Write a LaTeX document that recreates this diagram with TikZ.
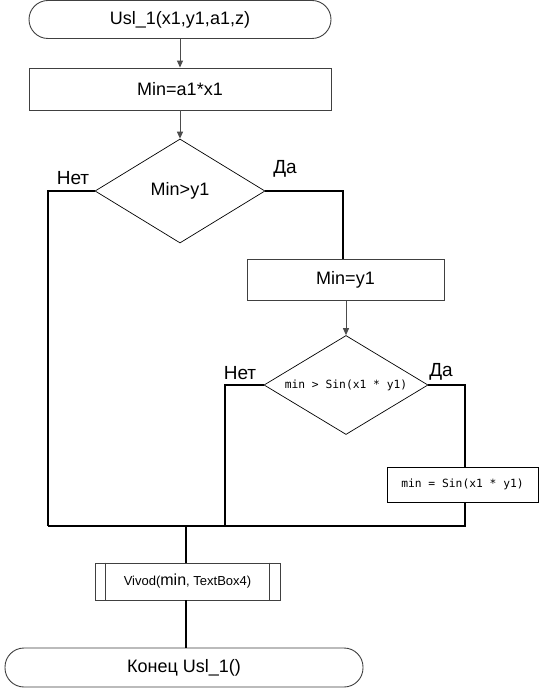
\documentclass[tikz,border=0pt]{standalone}
\usepackage{fontspec}
\setmainfont{Liberation Sans}
\newfontfamily\monofont{DejaVu Sans Mono}
\usetikzlibrary{shapes.geometric,arrows.meta}
\tikzset{
  term/.style={draw=black!75, line width=0.9pt, rectangle, rounded corners=19pt, inner sep=0pt, font=\fontsize{18}{20}\selectfont},
  procbox/.style={draw=black!75, line width=0.9pt, rectangle, inner sep=0pt, font=\fontsize{18}{20}\selectfont},
  decide/.style={draw=black, line width=0.7pt, diamond, inner sep=0pt, shape aspect=1.65, font=\fontsize{18}{20}\selectfont},
  arr/.style={draw=black!70, line width=1pt, -{Triangle[length=7pt,width=6pt]}},
  conn/.style={draw=black, line width=1.8pt},
  lbl/.style={font=\fontsize{19}{21}\selectfont, inner sep=0pt}
}
\begin{document}
\begin{tikzpicture}[x=1pt,y=-1pt]
\useasboundingbox (0,0) rectangle (539,700);
\fill[white] (0,0) rectangle (539,700);
\node[term, minimum width=302pt, minimum height=38pt] (start) at (180,19.5) {Usl\_1(x1,y1,a1,z)};
\node[procbox, minimum width=302pt, minimum height=42pt] (b1) at (180,89) {Min=a1*x1};
\node[decide, minimum width=170pt, minimum height=104pt] (d1) at (180,191) {Min>y1};
\node[procbox, minimum width=197pt, minimum height=41pt] (b2) at (345.5,280) {Min=y1};
\node[decide, minimum width=164pt, minimum height=99pt] (d2) at (346,385) {\monofont\fontsize{11.3}{13}\selectfont min > Sin(x1 * y1)};
\node[procbox, draw=black, minimum width=151pt, minimum height=35pt] (b3) at (462.5,484.5) {\monofont\fontsize{11.3}{13}\selectfont min = Sin(x1 * y1)};
\node[procbox, minimum width=185pt, minimum height=37pt] (out) at (187.5,581.5) {\fontsize{13}{15}\selectfont Vivod(\fontsize{16}{18}\selectfont min\fontsize{13}{15}\selectfont, TextBox4)};
\draw[draw=black!75, line width=0.9pt] ([xshift=11pt]out.north west) -- ([xshift=11pt]out.south west)
  ([xshift=-11pt]out.north east) -- ([xshift=-11pt]out.south east);
\node[term, minimum width=358pt, minimum height=39pt] (end) at (184,667.5) {Конец Usl\_1()};

\node[lbl] (n1) at (73,178) {Нет};
\node[lbl] (y1) at (285,169) {Да};
\node[lbl] (n2) at (240,373) {Нет};
\node[lbl] (y2) at (441,372) {Да};

\coordinate (jl) at (48,526);
\coordinate (jm) at (225,526);
\coordinate (jr) at (465,526);
\coordinate (jc) at (186,526);

\draw[arr] (start) -- (b1);
\draw[arr] (b1) -- (d1);
\draw[arr] (b2.south -| d2.north) -- (d2.north);
\draw[conn] (d1.west) -| (jl);
\draw[conn] (d1.east) -| (343,0 |- b2.north);
\draw[conn] (d2.west) -| (jm);
\draw[conn] (d2.east) -| (b3.north -| jr);
\draw[conn] (b3.south -| jr) -- (jr) -- (jl);
\draw[conn] (jc) -- (out.north -| jc);
\draw[conn] (out.south -| jc) -- (end.north -| jc);
\end{tikzpicture}
\end{document}
